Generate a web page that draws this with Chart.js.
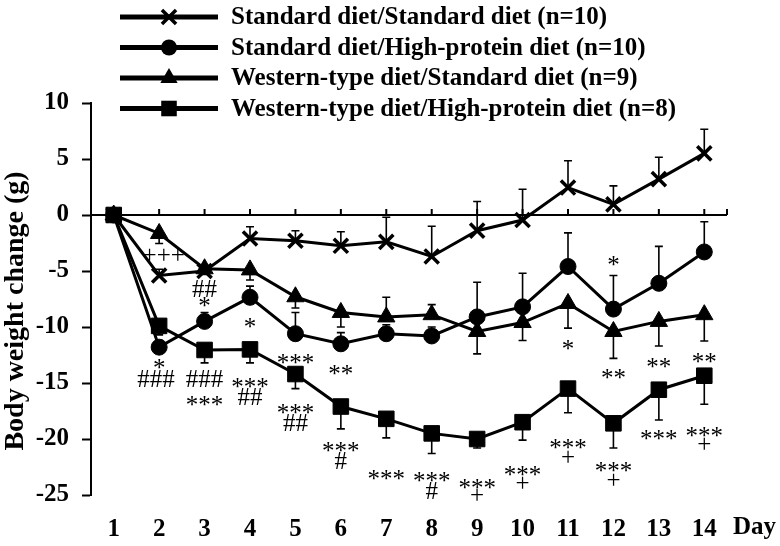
<!DOCTYPE html>
<html>
<head>
<meta charset="utf-8">
<script src="https://cdn.jsdelivr.net/npm/chart.js"></script>
<style>
	html, body { margin: 0; padding: 0; background: #fff; }
	#wrap { width: 780px; height: 546px; }
</style>
</head>
<body>
<div id="wrap"><canvas id="bwChart" width="780" height="546"></canvas></div>
<script>
// days of the study
const days = [1, 2, 3, 4, 5, 6, 7, 8, 9, 10, 11, 12, 13, 14];
const yTicks = [10, 5, 0, -5, -10, -15, -20, -25];

// mean body weight change (g)
const sdSd = [0, -5.4, -5.0, -2.1, -2.3, -2.75, -2.4, -3.7, -1.4, -0.45, 2.45, 0.95, 3.2, 5.5];
const sdHp = [0, -11.8, -9.5, -7.35, -10.6, -11.5, -10.6, -10.8, -9.1, -8.2, -4.6, -8.4, -6.1, -3.3];
const wSd  = [0, -1.65, -4.8, -4.9, -7.3, -8.7, -9.1, -8.9, -10.4, -9.6, -7.9, -10.4, -9.5, -8.9];
const wHp  = [0, -9.9, -12.05, -12.0, -14.2, -17.1, -18.2, -19.5, -20.0, -18.5, -15.5, -18.6, -15.6, -14.35];

// one-sided error bars (SEM): + drawn up, - drawn down
const sdSdErr = [0, 0.55, 0.5, 1.05, 0.9, 1.25, 2.2, 2.7, 2.6, 2.75, 2.4, 1.65, 1.95, 2.15];
const sdHpErr = [0, 0.6, 0.8, 1.0, 1.9, 1.0, 0.8, 0.8, 3.1, 3.0, 3.0, 3.0, 3.3, 2.7];
const wSdErr  = [0, -0.9, -0.5, -0.9, -1.0, -1.3, 1.75, 0.9, -2.0, -1.6, -2.2, -2.4, -2.2, -2.35];
const wHpErr  = [0, -0.8, -1.15, -1.2, -1.3, -2.0, -1.7, -1.8, -0.8, -1.6, -2.15, -2.2, -2.7, -2.55];

const seriesNames = [
	'Standard diet/Standard diet (n=10)',
	'Standard diet/High-protein diet (n=10)',
	'Western-type diet/Standard diet (n=9)',
	'Western-type diet/High-protein diet (n=8)'
];

// significance marks: day, value, text
const markDays = [2.1, 3, 3, 4, 2, 1.93, 3, 3, 4, 4, 5, 6, 5, 5, 6, 6, 7, 8, 8, 9, 9, 10, 10, 11, 11, 11, 12, 12, 12, 12, 13, 13, 14, 14, 14];
const markVals = [-3.65, -6.6, -7.8, -9.65, -13.3, -14.6, -14.6, -16.6, -15.0, -16.2, -12.9, -13.9, -17.35, -18.5, -20.7, -21.9, -23.2, -23.4, -24.6, -24.0, -25.15, -22.9, -24.05, -11.6, -20.5, -21.7, -4.17, -14.2, -22.55, -23.8, -13.25, -19.7, -12.8, -19.4, -20.6];
const markTexts = ['+++', '##', '*', '*', '*', '###', '###', '***', '***', '##', '***', '**', '***', '##', '***', '#', '***', '***', '#', '***', '+', '***', '+', '*', '***', '+', '*', '**', '***', '+', '**', '***', '**', '***', '+'];

;(function (window, document, undefined) {
	'use strict';

	var SERIF	= '"Liberation Serif", "Times New Roman", serif',
		BOLD	= 'bold 25px ' + SERIF,
		PLAIN	= '25px ' + SERIF;

	let values	= [sdSd, sdHp, wSd, wHp];
	let errors	= [sdSdErr, sdHpErr, wSdErr, wHpErr];
	let styles	= ['crossRot', 'circle', 'triangle', 'rect'];
	let radii	= [10, 8, 10, 11];

	function marker(ctx, style, x, y, r) {
		ctx.save();
		ctx.fillStyle = '#000';
		ctx.strokeStyle = '#000';
		ctx.beginPath();
		if (style === 'circle') {
			ctx.arc(x, y, r, 0, Math.PI * 2);
			ctx.fill();
		} else if (style === 'rect') {
			let s = r * Math.SQRT1_2;
			ctx.fillRect(x - s, y - s, s * 2, s * 2);
		} else if (style === 'triangle') {
			ctx.moveTo(x, y - r);
			ctx.lineTo(x + r * 0.866, y + r * 0.5);
			ctx.lineTo(x - r * 0.866, y + r * 0.5);
			ctx.closePath();
			ctx.fill();
		} else {
			let o = r * Math.SQRT1_2;
			ctx.lineWidth = 3.5;
			ctx.moveTo(x - o, y - o);
			ctx.lineTo(x + o, y + o);
			ctx.moveTo(x + o, y - o);
			ctx.lineTo(x - o, y + o);
			ctx.stroke();
		}
		ctx.restore();
	}

	// error bars sit behind the markers
	let errorBars = {
		id: 'errorBars',
		beforeDatasetsDraw: function (chart) {
			let ctx = chart.ctx, xs = chart.scales.x, ys = chart.scales.y;
			ctx.save();
			ctx.strokeStyle = '#000';
			ctx.lineWidth = 1.6;
			errors.forEach(function (err, i) {
				err.forEach(function (e, j) {
					if (!e) {
						return;
					}
					let x	= xs.getPixelForValue(days[j]);
					let y0	= ys.getPixelForValue(values[i][j]);
					let y1	= ys.getPixelForValue(values[i][j] + e);
					ctx.beginPath();
					ctx.moveTo(x, y0);
					ctx.lineTo(x, y1);
					ctx.moveTo(x - 4, y1);
					ctx.lineTo(x + 4, y1);
					ctx.stroke();
				});
			});
			ctx.restore();
		}
	};

	// zero line with up ticks, y title, legend, marks
	let extras = {
		id: 'extras',
		beforeDatasetsDraw: function (chart) {
			let ctx = chart.ctx, xs = chart.scales.x, ys = chart.scales.y;
			let y0 = ys.getPixelForValue(0);
			ctx.save();
			ctx.strokeStyle = '#000';
			ctx.lineWidth = 2;
			ctx.beginPath();
			ctx.moveTo(xs.left, y0);
			ctx.lineTo(xs.right, y0);
			days.concat([14.5]).forEach(function (d) {
				let x = xs.getPixelForValue(d);
				ctx.moveTo(x, y0);
				ctx.lineTo(x, y0 - 6);
			});
			ctx.stroke();
			ctx.restore();
		},
		afterDraw: function (chart) {
			let ctx = chart.ctx, xs = chart.scales.x, ys = chart.scales.y;
			ctx.save();
			ctx.fillStyle = '#000';

			// y title
			ctx.save();
			ctx.translate(16, 311);
			ctx.rotate(-Math.PI / 2);
			ctx.font = 'bold 28px ' + SERIF;
			ctx.textAlign = 'center';
			ctx.textBaseline = 'middle';
			ctx.fillText('Body weight change (g)', 0, 0);
			ctx.restore();

			// x unit
			ctx.font = BOLD;
			ctx.textAlign = 'left';
			ctx.textBaseline = 'middle';
			ctx.fillText('Day', 733, 528);

			// legend
			seriesNames.forEach(function (name, i) {
				let y = 17 + i * 30.5;
				ctx.save();
				ctx.strokeStyle = '#000';
				ctx.lineWidth = 5;
				ctx.beginPath();
				ctx.moveTo(120, y);
				ctx.lineTo(218, y);
				ctx.stroke();
				ctx.restore();
				marker(ctx, styles[i], 169, y, radii[i]);
				ctx.font = BOLD;
				ctx.textAlign = 'left';
				ctx.textBaseline = 'middle';
				ctx.fillText(name, 231, y + 1);
			});

			// significance marks
			ctx.font = PLAIN;
			ctx.textAlign = 'center';
			ctx.textBaseline = 'alphabetic';
			markTexts.forEach(function (t, k) {
				let lift = t.charAt(0) === '*' ? 0.47 : (t.charAt(0) === '#' ? 0.34 : 0.27);
				let x = xs.getPixelForValue(markDays[k]);
				let y = ys.getPixelForValue(markVals[k]) + lift * 25;
				ctx.fillText(t, x, y);
			});
			ctx.restore();
		}
	};

	let datasets = values.map(function (v, i) {
		return {
			label: seriesNames[i],
			data: days.map(function (d, j) { return { x: d, y: v[j] }; }),
			borderColor: '#000',
			borderWidth: 3,
			backgroundColor: '#000',
			pointStyle: styles[i],
			pointRadius: radii[i],
			pointBackgroundColor: '#000',
			pointBorderColor: '#000',
			pointBorderWidth: i === 0 ? 3.5 : 1,
			tension: 0,
			order: 4 - i
		};
	});

	let ctx = document.getElementById('bwChart').getContext('2d');
	new Chart(ctx, {
		type: 'line',
		data: { datasets: datasets },
		options: {
			responsive: false,
			animation: false,
			devicePixelRatio: 1,
			layout: { padding: { left: 0, top: 103, right: 53, bottom: 0 } },
			plugins: {
				legend: { display: false },
				tooltip: { enabled: false }
			},
			scales: {
				x: {
					type: 'linear',
					min: 0.5,
					max: 14.5,
					afterFit: function (s) { s.height = 51; },
					afterBuildTicks: function (s) {
						s.ticks = days.map(function (d) { return { value: d }; });
					},
					grid: { display: false, drawTicks: false },
					border: { display: false },
					ticks: {
						autoSkip: false,
						maxRotation: 0,
						padding: 20,
						color: '#000',
						font: { family: SERIF, size: 25, weight: 'bold' }
					}
				},
				y: {
					min: -25,
					max: 10,
					afterFit: function (s) { s.width = 91; },
					afterBuildTicks: function (s) {
						s.ticks = yTicks.map(function (v) { return { value: v }; });
					},
					grid: {
						drawOnChartArea: false,
						drawTicks: true,
						tickLength: 9,
						tickWidth: 2,
						tickColor: '#000'
					},
					border: { display: true, color: '#000', width: 2 },
					ticks: {
						padding: 13,
						color: '#000',
						font: { family: SERIF, size: 25, weight: 'bold' }
					}
				}
			}
		},
		plugins: [errorBars, extras]
	});

})(window, document);
</script>
</body>
</html>
